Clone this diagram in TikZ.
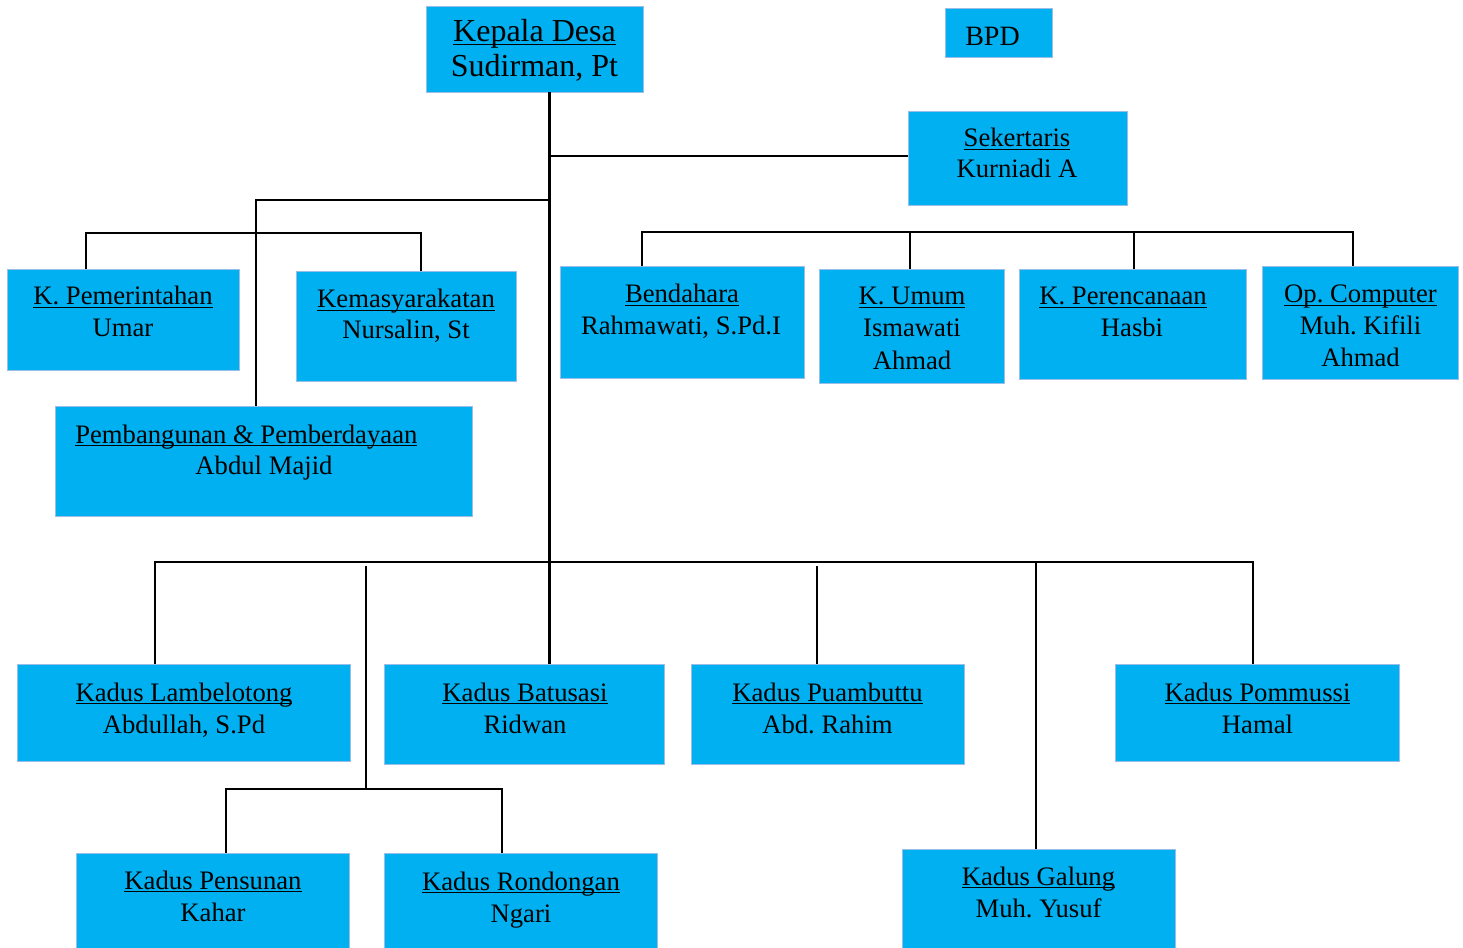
\documentclass[tikz,border=0pt]{standalone}
\usepackage{fontspec}
\setmainfont{Liberation Serif}
\usetikzlibrary{fit}
\definecolor{boxblue}{RGB}{0,176,240}
\definecolor{boxedge}{RGB}{155,190,232}
\newcommand\ulin[1]{\setbox0\hbox{#1}\rlap{\rule[-2.4pt]{\wd0}{1.1pt}}\box0}
\frenchspacing
\begin{document}
\begin{tikzpicture}[x=0.75pt,y=-0.75pt,
  box/.style={draw=boxedge,line width=0.6pt,fill=boxblue,inner sep=0pt},
  txt/.style={anchor=base,inner sep=0pt,font=\fontsize{20}{24}\selectfont},
  big/.style={anchor=base,inner sep=0pt,font=\fontsize{24}{28}\selectfont},
  conn/.style={line width=1.6pt,black}]
\useasboundingbox (0,0) rectangle (1463,948);

% boxes
\node[box,fit={(426,6) (643,92)}] (kd) {};
\node[box,fit={(945,8) (1052,57)}] (bpd) {};
\node[box,fit={(908,111) (1127,205)}] (sek) {};
\node[box,fit={(7,269) (239,370)}] (kpm) {};
\node[box,fit={(296,271) (516,381)}] (kms) {};
\node[box,fit={(55,406) (472,516)}] (pbd) {};
\node[box,fit={(560,266) (804,378)}] (ben) {};
\node[box,fit={(819,269) (1004,383)}] (kum) {};
\node[box,fit={(1019,269) (1246,379)}] (kpr) {};
\node[box,fit={(1262,266) (1458,379)}] (opc) {};
\node[box,fit={(17,664) (350,761)}] (lam) {};
\node[box,fit={(384,664) (664,764)}] (bat) {};
\node[box,fit={(691,664) (964,764)}] (pua) {};
\node[box,fit={(1115,664) (1399,761)}] (pom) {};
\node[box,fit={(76,853) (349,952)}] (pen) {};
\node[box,fit={(384,853) (657,952)}] (ron) {};
\node[box,fit={(902,849) (1175,952)}] (gal) {};

% texts
\node[big] (kd1) at (534.5,42) {\ulin{Kepala Desa}};
\node[big] (kd2) at (534.5,77) {Sudirman, Pt};
\node[anchor=base,inner sep=0pt,font=\fontsize{21}{25}\selectfont] (bpd1) at (992.5,46) {BPD};
\node[txt] (sek1) at (1017,147) {\ulin{Sekertaris}};
\node[txt] (sek2) at (1017,178) {Kurniadi A};
\node[txt] (kpm1) at (123,305) {\ulin{K. Pemerintahan}};
\node[txt] (kpm2) at (123,337) {Umar};
\node[txt] (kms1) at (406,308) {\ulin{Kemasyarakatan}};
\node[txt] (kms2) at (406,339) {Nursalin, St};
\node[txt,anchor=base west] (pbd1) at (75,443) {\ulin{Pembangunan \& Pemberdayaan}};
\node[txt] (pbd2) at (264,474) {Abdul Majid};
\node[txt] (ben1) at (682,303) {\ulin{Bendahara}};
\node[txt] (ben2) at (681,335) {Rahmawati, S.Pd.I};
\node[txt] (kum1) at (912,305) {\ulin{K. Umum}};
\node[txt] (kum2) at (912,337) {Ismawati};
\node[txt] (kum3) at (912,369) {Ahmad};
\node[txt] (kpr1) at (1123,305) {\ulin{K. Perencanaan}};
\node[txt] (kpr2) at (1132,337) {Hasbi};
\node[txt] (opc1) at (1360.5,303) {\ulin{Op. Computer}};
\node[txt] (opc2) at (1360.5,335) {Muh. Kifili};
\node[txt] (opc3) at (1360.5,367) {Ahmad};
\node[txt] (lam1) at (184,701) {\ulin{Kadus Lambelotong}};
\node[txt] (lam2) at (184,733) {Abdullah, S.Pd};
\node[txt] (bat1) at (525,701) {\ulin{Kadus Batusasi}};
\node[txt] (bat2) at (525,733) {Ridwan};
\node[txt] (pua1) at (827.5,701) {\ulin{Kadus Puambuttu}};
\node[txt] (pua2) at (827.5,733) {Abd. Rahim};
\node[txt] (pom1) at (1257.5,701) {\ulin{Kadus Pommussi}};
\node[txt] (pom2) at (1257.5,733) {Hamal};
\node[txt] (pen1) at (213,889) {\ulin{Kadus Pensunan}};
\node[txt] (pen2) at (213,921) {Kahar};
\node[txt] (ron1) at (521,890) {\ulin{Kadus Rondongan}};
\node[txt] (ron2) at (521,922) {Ngari};
\node[txt] (gal1) at (1038.5,885) {\ulin{Kadus Galung}};
\node[txt] (gal2) at (1038.5,917) {Muh. Yusuf};

% junction coordinates
\coordinate (mx) at (549.5,0);
\coordinate (s1) at (549.5,156);
\coordinate (a1) at (256,200);
\coordinate (a2l) at (86,233);
\coordinate (a2r) at (421,233);
\coordinate (b1) at (642,232);
\coordinate (b2) at (910,232);
\coordinate (b3) at (1134,232);
\coordinate (b4) at (1353,232);
\coordinate (c1) at (155,562);
\coordinate (c2) at (366,566);
\coordinate (c4) at (817,566);
\coordinate (c5) at (1036,562);
\coordinate (c6) at (1253,562);
\coordinate (d1) at (226,789);
\coordinate (d2) at (502,789);

% connectors
\draw[conn] (kd.south -| mx) -- (bat.north -| mx);
\draw[conn] (s1) -- (s1 -| sek.west);
\draw[conn] (a1 -| mx) -- (a1) -- (a1 |- pbd.north);
\draw[conn] (a2l |- kpm.north) -- (a2l) -- (a2r) -- (a2r |- kms.north);
\draw[conn] (b1 |- ben.north) -- (b1) -- (b4) -- (b4 |- opc.north);
\draw[conn] (b2) -- (b2 |- kum.north);
\draw[conn] (b3) -- (b3 |- kpr.north);
\draw[conn] (c1 |- lam.north) -- (c1) -- (c6) -- (c6 |- pom.north);
\draw[conn] (c4) -- (c4 |- pua.north);
\draw[conn] (c5) -- (c5 |- gal.north);
\draw[conn] (c2) -- (c2 |- d1);
\draw[conn] (d1 |- pen.north) -- (d1) -- (d2) -- (d2 |- ron.north);
\end{tikzpicture}
\end{document}
